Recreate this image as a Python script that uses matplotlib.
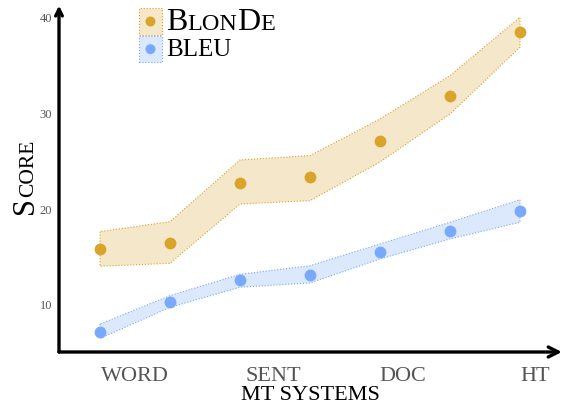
import numpy as np
import matplotlib
matplotlib.use("Agg")
import matplotlib.pyplot as plt
from matplotlib.patches import Rectangle, Circle
from matplotlib.offsetbox import AnchoredOffsetbox, HPacker, VPacker, TextArea, DrawingArea

# scores per MT system run
runs = [0, 1, 2, 3, 4, 5, 6]
blonde = [15.75, 16.38, 22.65, 23.27, 27.04, 31.74, 38.43]
blonde_lo = [13.94, 14.25, 20.45, 20.8, 24.84, 29.86, 36.83]
blonde_hi = [17.56, 18.6, 25.05, 25.5, 29.34, 33.86, 39.97]
bleu = [7.07, 10.21, 12.51, 13.03, 15.47, 17.66, 19.72]
bleu_lo = [6.4, 9.65, 11.75, 12.2, 14.7, 16.8, 18.54]
bleu_hi = [7.9, 10.87, 13.1, 14.0, 16.27, 18.54, 20.9]

group_pos = [0.5, 2.47, 4.33, 6.21]
group_labels = ["WORD", "SENT", "DOC", "HT"]
yticks = [10, 20, 30, 40]

GOLD = "#daa32a"
GOLD_FILL = "#f5e7c9"
BLUE = "#78a9fc"
BLUE_FILL = "#dce8fb"
TICK_GREY = "#555555"

plt.rcParams["font.family"] = ["Liberation Serif", "DejaVu Serif"]

fig = plt.figure(figsize=(5.63, 4.06), dpi=100)
ax = fig.add_axes([59 / 563, 53 / 406, 496 / 563, 343 / 406])

ax.fill_between(runs, blonde_lo, blonde_hi, facecolor=GOLD_FILL, edgecolor=GOLD,
                linestyle=":", linewidth=0.8, zorder=1)
ax.fill_between(runs, bleu_lo, bleu_hi, facecolor=BLUE_FILL, edgecolor=BLUE,
                linestyle=":", linewidth=0.8, zorder=1)
ax.plot(runs, blonde, "o", color=GOLD, ms=8.5, mec="none", zorder=3)
ax.plot(runs, bleu, "o", color=BLUE, ms=8.5, mec="none", zorder=3)

ax.set_xlim(-0.586, 6.5)
ax.set_ylim(4.98, 40.83)

for s in ax.spines.values():
    s.set_visible(False)

# arrowed axes
ax.annotate("", xy=(1.014, 0), xytext=(0, 0), xycoords="axes fraction",
            arrowprops=dict(arrowstyle="->", lw=2.4, color="black",
                            mutation_scale=18, shrinkA=0, shrinkB=0),
            annotation_clip=False)
ax.annotate("", xy=(0, 1.01), xytext=(0, 0), xycoords="axes fraction",
            arrowprops=dict(arrowstyle="->", lw=2.4, color="black",
                            mutation_scale=12, shrinkA=0, shrinkB=0),
            annotation_clip=False)

ax.set_xticks(group_pos)
ax.set_xticklabels(group_labels, fontsize=16, color=TICK_GREY)
ax.set_yticks(yticks)
ax.set_yticklabels([str(v) for v in yticks], fontsize=9, color=TICK_GREY)
ax.tick_params(axis="x", length=0, pad=10)
ax.tick_params(axis="y", length=0, pad=5)

fig.text(310 / 563, 10 / 406, "MT SYSTEMS", fontsize=16, color="black",
         ha="center", va="center")

# small-caps y label
s_big = fig.text(33 / 563, 192 / 406, "S", fontsize=22, rotation=90,
                 rotation_mode="anchor", ha="left", va="baseline")
fig.canvas.draw()
bb = s_big.get_window_extent()
fig.text(33 / 563, bb.y1 / fig.bbox.height, "CORE", fontsize=15.5, rotation=90,
         rotation_mode="anchor", ha="left", va="baseline")


def key_box(fc, ec, mc):
    da = DrawingArea(16.5, 19, 0, 0)
    da.add_artist(Rectangle((0, 0), 16.5, 19, facecolor=fc, edgecolor=ec,
                            linestyle=":", linewidth=0.8))
    da.add_artist(Circle((8.25, 9.5), 3.6, facecolor=mc, edgecolor="none"))
    return da


def small_caps(parts):
    kids = [TextArea(txt, textprops=dict(fontsize=fs, color="black"))
            for txt, fs in parts]
    return HPacker(children=kids, align="baseline", pad=0, sep=0)


row1 = HPacker(children=[key_box(GOLD_FILL, GOLD, GOLD),
                         small_caps([("B", 23), ("LON", 17.5), ("D", 23), ("E", 17.5)])],
               align="center", pad=0, sep=3)
row2 = HPacker(children=[key_box(BLUE_FILL, BLUE, BLUE),
                         small_caps([("BLEU", 18)])],
               align="center", pad=0, sep=3)
legend_box = VPacker(children=[row1, row2], align="left", pad=0, sep=0)
anchored = AnchoredOffsetbox(loc="upper left", child=legend_box, pad=0, borderpad=0,
                             frameon=False, bbox_to_anchor=(139 / 563, 1 - 8 / 406),
                             bbox_transform=fig.transFigure)
fig.add_artist(anchored)

fig.savefig("out.png", dpi=100)
